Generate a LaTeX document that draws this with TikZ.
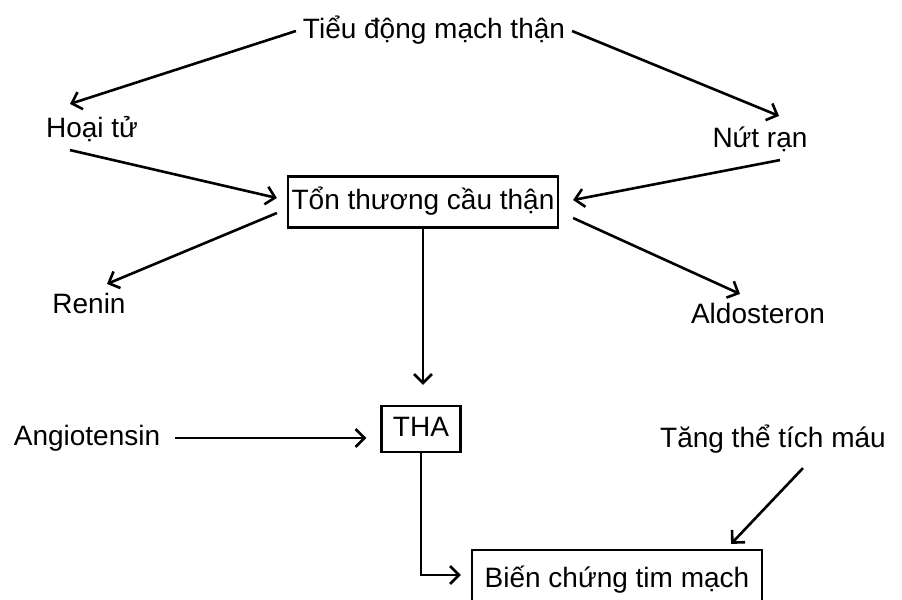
\documentclass[tikz,border=0pt]{standalone}
\usepackage{fontspec}
\setmainfont{Liberation Sans}
\usetikzlibrary{positioning,arrows.meta}

\begin{document}
\begin{tikzpicture}[x=0.5pt,y=-0.5pt,
  font=\fontsize{14}{16}\selectfont,
  lbl/.style={text height=10pt,text depth=3pt},
  boxnode/.style={draw=black,line width=1.1pt,inner sep=0pt},
  link/.style={line width=1.3pt,-{Straight Barb[length=4.5pt,width=9pt,line width=1.3pt]}}]
\useasboundingbox (0,0) rectangle (902,600);
\clip (0,0) rectangle (902,600);

\fill node[lbl] (tieu) at (434,31) {Tiểu động mạch thận};
\fill node[lbl] (hoaitu) at (92,130) {Hoại tử};
\fill node[lbl] (nutran) at (760,140) {Nứt rạn};
\fill node[boxnode,lbl,minimum width=135pt,minimum height=25.5pt] (tonthuong) at (423,202) {Tổn thương cầu thận};
\fill node[lbl] (renin) at (89,306) {Renin};
\fill node[lbl] (aldo) at (758,316) {Aldosteron};
\fill node[boxnode,lbl,minimum width=39.5pt,minimum height=23pt] (tha) at (421,429) {THA};
\fill node[lbl] (angio) at (87,438) {Angiotensin};
\fill node[lbl] (tang) at (773,440) {Tăng thể tích máu};
\fill node[boxnode,lbl,minimum width=145pt,minimum height=30pt] (bienchung) at (617,580) {Biến chứng tim mạch};

\draw[link] (tieu.west) to ([xshift=-11pt,yshift=3pt]hoaitu.north);
\draw[link] (tieu.east) to ([xshift=9.5pt,yshift=2pt]nutran.north);
\draw[link] ([xshift=-11pt]hoaitu.south) to ([xshift=-5pt,yshift=2pt]tonthuong.west);
\draw[link] ([xshift=10pt]nutran.south) to ([xshift=7pt,yshift=1pt]tonthuong.east);
\draw[link] ([xshift=-5pt,yshift=-5.5pt]tonthuong.west) to ([xshift=9pt,yshift=1pt]renin.north);
\draw[link] ([xshift=7pt,yshift=-8pt]tonthuong.east) to ([xshift=-9pt,yshift=1pt]aldo.north);
\draw[link, shorten >=10pt] (tonthuong.south) to ([xshift=1pt]tha.north);
\draw[link, shorten <=4pt, shorten >=7pt] (angio.east) to (angio.east -| tha.west);
\draw[link, shorten >=5pt] (tha.south) |- ([yshift=2.5pt]bienchung.west);
\draw[link] ([xshift=15pt,yshift=-4pt]tang.south) to ([xshift=-16pt,yshift=2.5pt]bienchung.north east);
\end{tikzpicture}
\end{document}
